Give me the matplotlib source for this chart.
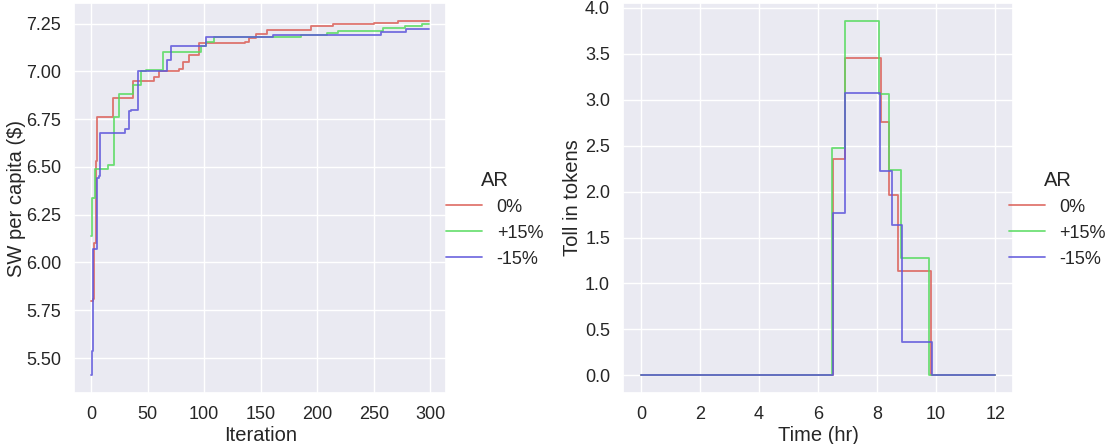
import matplotlib
matplotlib.use("Agg")
import matplotlib.pyplot as plt
import seaborn as sns

# Social welfare per capita over optimisation iterations (step changes)
sw_red_it = [0, 2, 3, 4, 5.5, 19.5, 37, 55.5, 60.5, 77.5, 81, 86.5, 95.5, 136, 140, 146, 156,
             194.5, 213.5, 250.5, 271, 299]
sw_red_val = [5.80, 5.81, 6.10, 6.53, 6.76, 6.86, 6.95, 6.97, 7.00, 7.01, 7.05, 7.085, 7.146,
              7.155, 7.172, 7.194, 7.215, 7.235, 7.245, 7.252, 7.262, 7.264]

sw_green_it = [0, 1, 3.3, 15, 20, 24.7, 37, 44.5, 49, 63.5, 97.5, 102, 109, 185.5, 209,
               218.5, 258, 277.5, 293, 299]
sw_green_val = [6.14, 6.335, 6.49, 6.51, 6.76, 6.88, 6.93, 7.00, 7.005, 7.103, 7.13, 7.155,
                7.18, 7.19, 7.20, 7.21, 7.228, 7.238, 7.246, 7.246]

sw_blue_it = [0, 1, 1.5, 5.3, 6.8, 8.3, 29.8, 33.6, 35.7, 41.5, 67, 71, 102, 161, 256,
              278.5, 299]
sw_blue_val = [5.41, 5.535, 6.07, 6.44, 6.45, 6.675, 6.70, 6.79, 6.80, 7.00, 7.06, 7.13, 7.18,
               7.19, 7.207, 7.219, 7.219]

# Toll profile over the day
toll_red_t = [0, 6.5, 6.9, 8.13, 8.41, 8.72, 9.84, 12]
toll_red_v = [0, 2.35, 3.46, 2.76, 1.96, 1.14, 0, 0]

toll_green_t = [0, 6.47, 6.9, 8.07, 8.39, 8.82, 9.77, 12]
toll_green_v = [0, 2.48, 3.86, 3.06, 2.23, 1.28, 0, 0]

toll_blue_t = [0, 6.5, 6.9, 8.11, 8.49, 8.83, 9.85, 12]
toll_blue_v = [0, 1.77, 3.07, 2.22, 1.64, 0.36, 0, 0]

labels = ["0%", "+15%", "-15%"]
colors = sns.color_palette("hls", 3)

sns.set_theme(style="darkgrid", font_scale=1.2)
plt.rcParams["font.family"] = ["Liberation Sans", "DejaVu Sans"]
plt.rcParams["xtick.labelsize"] = 13
plt.rcParams["ytick.labelsize"] = 13
plt.rcParams["axes.labelsize"] = 14.5

fig = plt.figure(figsize=(11.07, 4.44), dpi=100)
ax1 = fig.add_axes([0.067, 0.115, 0.336, 0.878])
ax2 = fig.add_axes([0.563, 0.115, 0.352, 0.878])

sw_series = [(sw_red_it, sw_red_val), (sw_green_it, sw_green_val), (sw_blue_it, sw_blue_val)]
for (x, y), c, lab in zip(sw_series, colors, labels):
    ax1.plot(x, y, drawstyle="steps-post", color=c, lw=1.3, alpha=0.85, label=lab)
ax1.set_xlabel("Iteration", labelpad=2)
ax1.set_ylabel("SW per capita ($)")
ax1.yaxis.set_label_coords(-0.13, 0.5)
ax1.set_xticks(range(0, 301, 50))
ax1.set_yticks([5.5, 5.75, 6.0, 6.25, 6.5, 6.75, 7.0, 7.25])
ax1.set_yticklabels([f"{v:.2f}" for v in ax1.get_yticks()])

toll_series = [(toll_red_t, toll_red_v), (toll_green_t, toll_green_v),
               (toll_blue_t, toll_blue_v)]
for (x, y), c, lab in zip(toll_series, colors, labels):
    ax2.plot(x, y, drawstyle="steps-post", color=c, lw=1.3, alpha=0.85, label=lab)
ax2.set_xlabel("Time (hr)", labelpad=2)
ax2.set_ylabel("Toll in tokens")
ax2.yaxis.set_label_coords(-0.105, 0.5)
ax2.set_xticks(range(0, 13, 2))
ax2.set_yticks([0, 0.5, 1.0, 1.5, 2.0, 2.5, 3.0, 3.5, 4.0])

ax1.legend(title="AR", loc="center left", bbox_to_anchor=(1.0, 0.446),
           frameon=False, borderaxespad=0, borderpad=0,
           fontsize=13, title_fontsize=14.5)
ax2.legend(title="AR", loc="center left", bbox_to_anchor=(0.99, 0.446),
           frameon=False, borderaxespad=0, borderpad=0,
           fontsize=13, title_fontsize=14.5)

fig.savefig("out.png")
